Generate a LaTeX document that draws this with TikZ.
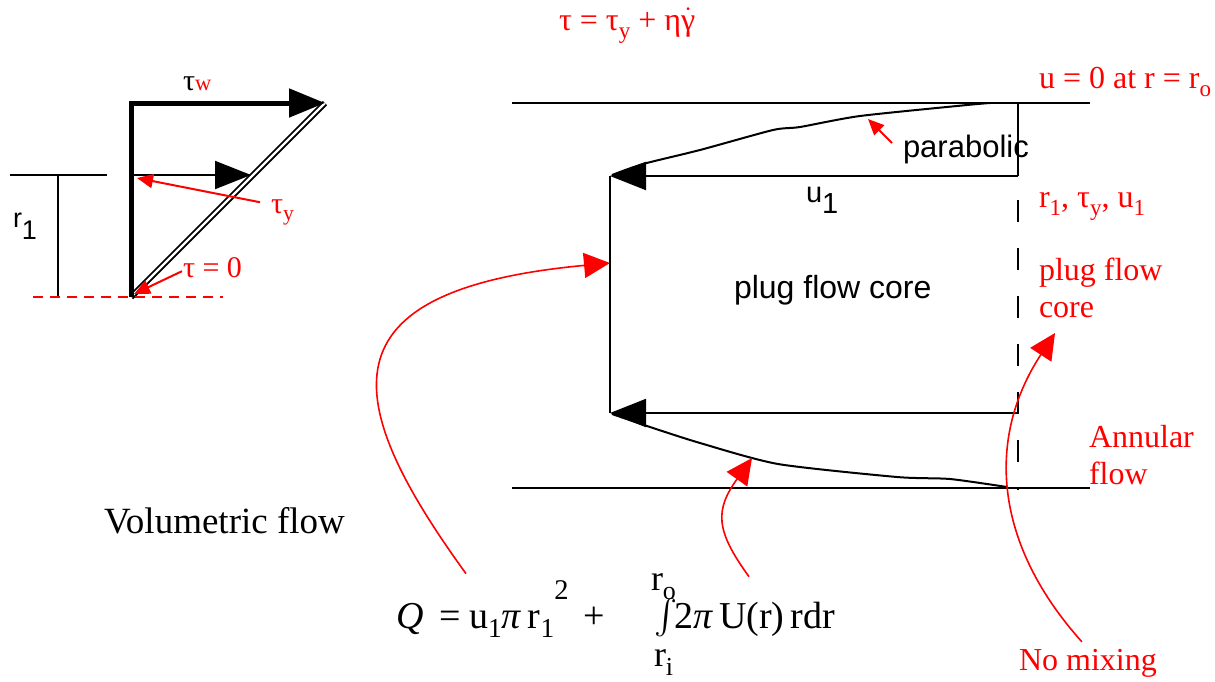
\documentclass[tikz,border=0pt]{standalone}
\usepackage{amsmath}
\usepackage{graphicx}
\usepackage{fontspec}
\setmainfont{Liberation Serif}
\setsansfont{Liberation Sans}
\usepackage{xcolor}
\usetikzlibrary{arrows.meta,calc}

\newcommand{\subtx}[1]{\raisebox{-0.25em}{\scalebox{0.72}{#1}}}

\begin{document}
\begin{tikzpicture}[x=0.5pt,y=-0.5pt,>={Triangle[length=18pt,width=14pt]},line width=1pt]
\tikzstyle{lbl}=[text=red, inner sep=0pt, anchor=base west, align=left, font=\fontsize{16}{18.5}\selectfont]
\tikzstyle{sflbl}=[inner sep=0pt, anchor=base west, font=\sffamily\fontsize{15.5}{18}\selectfont]
\tikzstyle{eq}=[inner sep=0pt, anchor=base west, font=\fontsize{19}{22}\selectfont]
\tikzstyle{note}=[red, line width=0.8pt, -{Triangle[length=13pt,width=12.5pt]}]
\tikzstyle{tinynote}=[red, line width=1pt, -{Triangle[length=8pt,width=7pt]}]
\useasboundingbox (0,0) rectangle (1215,681);

% shear stress profile
\coordinate (base) at (131,297);
\coordinate (wall) at (131,103);
\coordinate (tauw) at (325,103);
\coordinate (yld) at (131,175);
\coordinate (tauyl) at (251,175);
\draw[double, double distance=1.2pt, line width=0.9pt] (base) -- (tauw);
\draw[line width=2.5pt, ->] (base) -- (wall) -- (tauw);
\draw[->] (yld) -- (tauyl);
\node[inner sep=0pt, anchor=base west, font=\fontsize{15}{17}\selectfont] (tw) at (182,90) {τ\textcolor{red}{\scalebox{0.75}{w}}};
\node[lbl, font=\fontsize{15}{17}\selectfont] (ty) at (270,213) {τ\subtx{y}};
\node[lbl, font=\fontsize{15}{17}\selectfont] (t0) at (182,277) {τ = 0};
\coordinate (t0to) at (134,294);
\draw[tinynote] ([xshift=-5pt,yshift=-2pt]ty.north west) -- ([xshift=3pt,yshift=-1.5pt]yld);
\draw[tinynote] ([yshift=-2pt]t0.west) -- (t0to);

% plug radius
\coordinate (rl) at (10,175);
\coordinate (rr) at (107,175);
\coordinate (rtop) at (58,175);
\coordinate (rbot) at (58,297);
\coordinate (dl) at (33,297);
\coordinate (dr) at (223,297);
\draw (rl) -- (rr);
\draw (rtop) -- (rbot);
\draw[red, dash pattern=on 5pt off 3.5pt] (dl) -- (dr);
\node[sflbl, font=\sffamily\fontsize{13.5}{16}\selectfont] (r1) at (12,227) {r\raisebox{-0.48em}{1}};

\node[eq, font=\fontsize{18.5}{22}\selectfont] (vf) at (103,533) {Volumetric flow};

% pipe and core
\coordinate (pipetl) at (512,103);
\coordinate (pipetr) at (1090,103);
\coordinate (pipebl) at (512,488);
\coordinate (pipebr) at (1090,488);
\coordinate (ctl) at (610,176);
\coordinate (ctr) at (1018,176);
\coordinate (cbl) at (610,413);
\coordinate (cbr) at (1018,413);
\coordinate (wtop) at (1018,103);
\coordinate (dtop) at (1018,200);
\coordinate (wbot) at (1018,490);
\draw (pipetl) -- (pipetr);
\draw (pipebl) -- (pipebr);
\draw (cbl) -- (ctl);
\draw[->] (ctr) -- (ctl);
\draw[->] (cbr) -- (cbl);
\draw (wtop) -- (ctr);
\draw[dash pattern=on 11pt off 13pt] (dtop) -- (wbot);
% velocity profile in the annulus
\draw plot[smooth, tension=0.4] coordinates {(990,103) (967,105) (860,116) (800,127) (773,130) (700,150) (643,164) (612,175)};
\draw plot[smooth, tension=0.4] coordinates {(1007,487) (950,479) (897,477) (778,464) (700,443) (650,427) (612,414)};

\node[lbl] (law) at (558,30) {τ = τ\subtx{y} + η$\dot{\text{γ}}$};
\node[lbl] (bc) at (1038,88) {u = 0 at r = r\subtx{o}};
\node[lbl] (ry) at (1038,207) {r\subtx{1}, τ\subtx{y}, u\subtx{1}};
\node[lbl] (pcl) at (1038,317) {plug flow\\core};
\node[lbl] (ann) at (1088,484) {Annular\\flow};
\node[lbl] (nomix) at (1018,670) {No mixing};
\node[sflbl] (para) at (902,157) {parabolic};
\node[sflbl, font=\sffamily\fontsize{14.5}{17}\selectfont] (u1) at (805,202) {u\raisebox{-0.4em}{1}};
\node[sflbl, font=\sffamily\fontsize{16}{18}\selectfont] (pfc) at (733,298) {plug flow core};

% flow rate
\node[eq] (Q) at (395,628) {\textit{Q}};
\node[eq] (eqsign) at (438,628) {=};
\node[eq] (plugq) at (468,628) {u\subtx{1}\textit{π}\,r\subtx{1}\raisebox{0.75em}{\scalebox{0.75}{2}}};
\node[eq] (plus) at (582,628) {+};
\node[eq, font=\fontsize{16}{18}\selectfont] (intg) at (653,626) {$\int$};
\node[eq, font=\fontsize{18}{22}\selectfont] (rup) at (650,590) {r\subtx{o}};
\node[eq, font=\fontsize{18}{22}\selectfont] (rlow) at (653,666) {r\subtx{i}};
\node[eq] (annq) at (673,628) {2\textit{π}\,U(r)\,rdr};

% pointers
\coordinate (coreleft) at (610,263);
\coordinate (annpt) at (752,458);
\coordinate (plugpt) at (1055,333);
\coordinate (parapt) at (868,119);
\draw[tinynote] ([xshift=-5pt,yshift=3pt]para.west) -- (parapt);
\draw[note] ([xshift=-1pt,yshift=3pt]plugq.north west) .. controls (340,400) and (320,290) .. (coreleft);
\draw[note] ([xshift=38pt,yshift=12pt]annq.north west) .. controls (715,530) and (715,510) .. (annpt);
\draw[note] ([xshift=-3pt,yshift=3pt]nomix.north) .. controls (995,545) and (985,440) .. (plugpt);
\end{tikzpicture}
\end{document}
